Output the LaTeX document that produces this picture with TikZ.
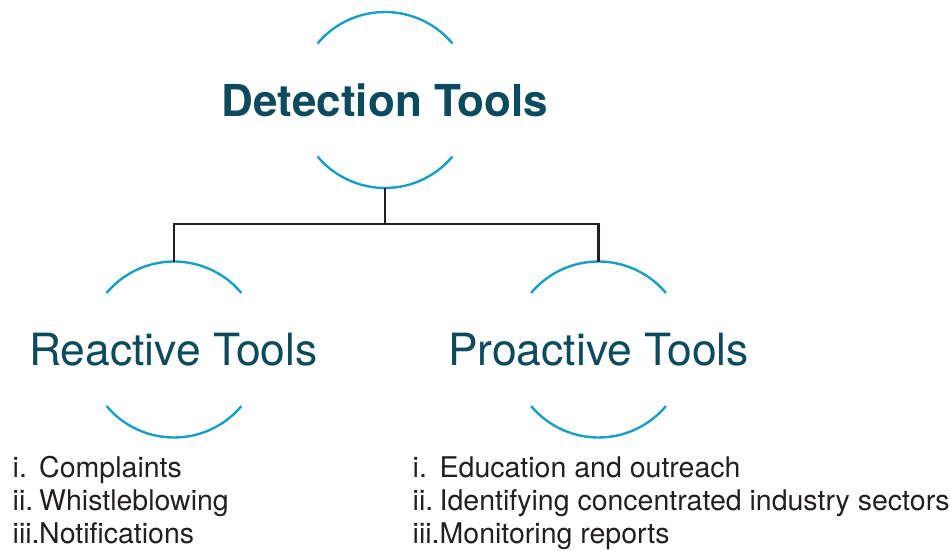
\documentclass[tikz,border=0pt]{standalone}
\usepackage{fontspec}
\setmainfont{TeX Gyre Heros}
\usetikzlibrary{calc}
\definecolor{titlecol}{HTML}{0C4A5E}
\definecolor{arccol}{HTML}{17A0C4}
\definecolor{linecol}{HTML}{231F20}
\begin{document}
\begin{tikzpicture}[x=1pt,y=1pt,
  arcline/.style={draw=arccol,line width=2.4pt},
  connline/.style={draw=linecol,line width=2.1pt},
  headbold/.style={inner sep=0pt,anchor=base,text=titlecol,font=\fontsize{44}{50}\selectfont\bfseries},
  headreg/.style={inner sep=0pt,anchor=base,text=titlecol,font=\fontsize{44.4}{50}\selectfont},
  listitem/.style={inner sep=0pt,anchor=base west,text=linecol,font=\fontsize{28.5}{33}\selectfont}]
\useasboundingbox (0,0) rectangle (950,550);
% centres
\coordinate (cTop) at (385,450);
\coordinate (cLeft) at (174,200.5);
\coordinate (cRight) at (598.5,200.5);
% titles
\node[headbold] (title) at (385,433) {Detection Tools};
\node[headreg] (reactive) at (173.5,185) {Reactive Tools};
\node[headreg] (proactive) at (598.5,185) {Proactive Tools};
% arcs
\foreach \c in {cTop,cLeft,cRight}{
  \draw[arcline] ($(\c)+(40:88)$) arc[start angle=40,end angle=140,radius=88];
  \draw[arcline] ($(\c)+(220:88)$) arc[start angle=220,end angle=320,radius=88];
}
% connectors
\coordinate (topB) at (385,362);
\coordinate (junc) at (385,326);
\coordinate (leftT) at (174,288.5);
\coordinate (rightT) at (598.5,288.5);
\draw[connline] (topB) -- (junc);
\draw[connline] (leftT) |- (junc) -| (rightT);
% lists
\node[listitem] (r1) at (12.5,73) {\makebox[26.5pt][l]{i.}Complaints};
\node[listitem] (r2) at (12.5,40) {\makebox[26.5pt][l]{ii.}Whistleblowing};
\node[listitem] (r3) at (12.5,7) {\makebox[26.5pt][l]{iii.}Notifications};
\node[listitem] (p1) at (412.5,73) {\makebox[27pt][l]{i.}Education and outreach};
\node[listitem] (p2) at (412.5,40) {\makebox[27pt][l]{ii.}Identifying concentrated industry sectors};
\node[listitem] (p3) at (412.5,7) {\makebox[27pt][l]{iii.}Monitoring reports};
\end{tikzpicture}
\end{document}
